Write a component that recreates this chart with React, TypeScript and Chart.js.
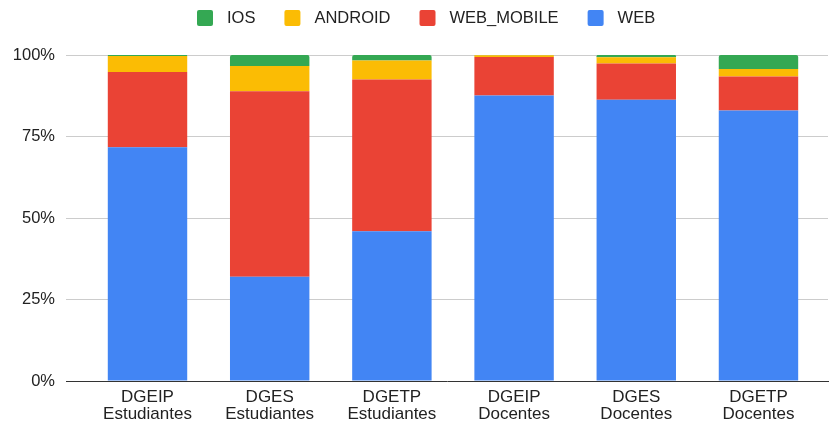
import React, { useEffect, useRef } from "react";
import { Chart, registerables } from "chart.js";

Chart.register(...registerables);

const categories: string[][] = [
  ["DGEIP", "Estudiantes"],
  ["DGES", "Estudiantes"],
  ["DGETP", "Estudiantes"],
  ["DGEIP", "Docentes"],
  ["DGES", "Docentes"],
  ["DGETP", "Docentes"],
];
const web = [71.7, 32.0, 45.9, 87.6, 86.3, 83.0];
const webMobile = [23.1, 56.9, 46.6, 11.8, 11.1, 10.4];
const android = [4.9, 7.7, 5.8, 0.5, 1.9, 2.3];
const ios = [0.3, 3.4, 1.7, 0.1, 0.7, 4.3];
const yTicks = [0, 25, 50, 75, 100];

const FAMILY = "'Liberation Sans', Arial, sans-serif";
const TEXT = "#222222";

const toPoints = (arr: number[]) => arr.map((v, i) => ({ x: i, y: v }));

const legendPlugin = {
  id: "customLegend",
  afterDraw(chart: any) {
    const ctx = chart.ctx as CanvasRenderingContext2D;
    ctx.save();
    ctx.font = `16.5px ${FAMILY}`;
    ctx.textBaseline = "middle";
    ctx.textAlign = "left";
    let x = 197;
    const items = [...chart.data.datasets].reverse();
    items.forEach((ds: any) => {
      ctx.fillStyle = ds.backgroundColor;
      ctx.beginPath();
      (ctx as any).roundRect(x, 10, 16, 16, 2);
      ctx.fill();
      ctx.fillStyle = TEXT;
      ctx.fillText(ds.label, x + 30, 18.5);
      x += 30 + ctx.measureText(ds.label).width + 29;
    });
    ctx.restore();
  },
};

export default function App() {
  const ref = useRef<HTMLCanvasElement | null>(null);

  useEffect(() => {
    if (!ref.current) return;
    const chart = new Chart(ref.current, {
      type: "bar",
      data: {
        datasets: [
          { label: "WEB", data: toPoints(web), backgroundColor: "#4285F4" },
          { label: "WEB_MOBILE", data: toPoints(webMobile), backgroundColor: "#EA4335" },
          { label: "ANDROID", data: toPoints(android), backgroundColor: "#FBBC04" },
          { label: "IOS", data: toPoints(ios), backgroundColor: "#34A853" },
        ] as any,
      },
      options: {
        responsive: false,
        animation: false,
        layout: { padding: { top: 55, right: 1, bottom: 0, left: 0 } },
        datasets: {
          bar: { barPercentage: 0.65, categoryPercentage: 1, borderRadius: 2 } as any,
        },
        plugins: {
          legend: { display: false },
          tooltip: { enabled: false },
        },
        scales: {
          x: {
            type: "linear",
            stacked: true,
            offset: false,
            min: -0.667,
            max: 5.569,
            afterBuildTicks: (s: any) => {
              s.ticks = categories.map((_, i) => ({ value: i }));
            },
            afterFit: (s: any) => {
              s.height = 41;
            },
            ticks: {
              autoSkip: false,
              maxRotation: 0,
              padding: 8,
              color: TEXT,
              font: { family: FAMILY, size: 17, lineHeight: 1.0 },
              callback: (_v: any, i: number) => categories[i],
            },
            grid: { display: false, drawTicks: false },
            border: { display: true, color: "#333333", width: 1 },
          },
          y: {
            stacked: true,
            min: 0,
            max: 100,
            afterBuildTicks: (s: any) => {
              s.ticks = yTicks.map((v) => ({ value: v }));
            },
            afterFit: (s: any) => {
              s.width = 66;
            },
            ticks: {
              padding: 11,
              color: TEXT,
              font: { family: FAMILY, size: 16.5 },
              callback: (v: any) => `${v}%`,
            },
            grid: {
              drawTicks: false,
              color: (c: any) => (c.tick && c.tick.value === 0 ? "rgba(0,0,0,0)" : "#cccccc"),
            },
            border: { display: false },
          },
        } as any,
      },
      plugins: [legendPlugin],
    });
    return () => chart.destroy();
  }, []);

  return (
    <div style={{ position: "absolute", left: 0, top: 0, width: 829, height: 422, background: "#fff" }}>
      <canvas ref={ref} width={829} height={422} style={{ display: "block" }} />
    </div>
  );
}
